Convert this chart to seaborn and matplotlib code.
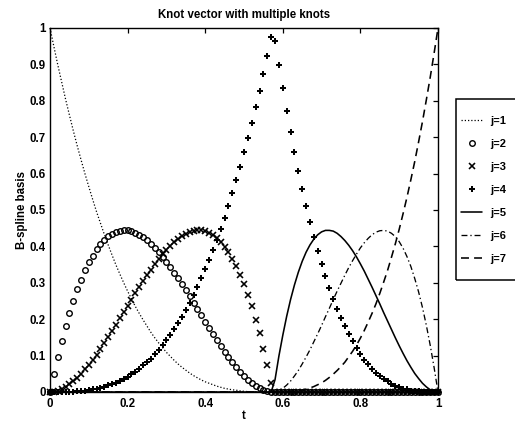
import matplotlib
matplotlib.use("Agg")
import matplotlib.pyplot as plt
from matplotlib.patches import Rectangle
import seaborn as sns
import pandas as pd

# ---------------- data ----------------
t = [0.00, 0.01, 0.02, 0.03, 0.04, 0.05, 0.06, 0.07, 0.08, 0.09,
     0.10, 0.11, 0.12, 0.13, 0.14, 0.15, 0.16, 0.17, 0.18, 0.19,
     0.20, 0.21, 0.22, 0.23, 0.24, 0.25, 0.26, 0.27, 0.28, 0.29,
     0.30, 0.31, 0.32, 0.33, 0.34, 0.35, 0.36, 0.37, 0.38, 0.39,
     0.40, 0.41, 0.42, 0.43, 0.44, 0.45, 0.46, 0.47, 0.48, 0.49,
     0.50, 0.51, 0.52, 0.53, 0.54, 0.55, 0.56, 0.57, 0.58, 0.59,
     0.60, 0.61, 0.62, 0.63, 0.64, 0.65, 0.66, 0.67, 0.68, 0.69,
     0.70, 0.71, 0.72, 0.73, 0.74, 0.75, 0.76, 0.77, 0.78, 0.79,
     0.80, 0.81, 0.82, 0.83, 0.84, 0.85, 0.86, 0.87, 0.88, 0.89,
     0.90, 0.91, 0.92, 0.93, 0.94, 0.95, 0.96, 0.97, 0.98, 0.99,
     1.00]

j1 = [1.000, 0.949, 0.899, 0.852, 0.805, 0.761, 0.718, 0.677, 0.638, 0.600,
      0.564, 0.529, 0.495, 0.464, 0.433, 0.404, 0.376, 0.349, 0.324, 0.300,
      0.277, 0.256, 0.235, 0.216, 0.198, 0.181, 0.164, 0.149, 0.135, 0.122,
      0.109, 0.098, 0.087, 0.077, 0.068, 0.060, 0.052, 0.045, 0.039, 0.033,
      0.028, 0.024, 0.020, 0.016, 0.013, 0.010, 0.008, 0.006, 0.005, 0.003,
      0.002, 0.001, 0.001, 0.000, 0.000, 0.000, 0.000, 0.000, 0.000, 0.000,
      0.000, 0.000, 0.000, 0.000, 0.000, 0.000, 0.000, 0.000, 0.000, 0.000,
      0.000, 0.000, 0.000, 0.000, 0.000, 0.000, 0.000, 0.000, 0.000, 0.000,
      0.000, 0.000, 0.000, 0.000, 0.000, 0.000, 0.000, 0.000, 0.000, 0.000,
      0.000, 0.000, 0.000, 0.000, 0.000, 0.000, 0.000, 0.000, 0.000, 0.000,
      0.000]

j2 = [0.000, 0.050, 0.097, 0.141, 0.181, 0.217, 0.251, 0.282, 0.309, 0.334,
      0.356, 0.375, 0.392, 0.406, 0.418, 0.428, 0.435, 0.440, 0.443, 0.444,
      0.444, 0.441, 0.438, 0.432, 0.425, 0.417, 0.407, 0.396, 0.385, 0.372,
      0.358, 0.344, 0.328, 0.313, 0.296, 0.280, 0.263, 0.245, 0.228, 0.211,
      0.193, 0.176, 0.159, 0.143, 0.127, 0.111, 0.096, 0.082, 0.068, 0.056,
      0.044, 0.034, 0.025, 0.017, 0.010, 0.005, 0.002, 0.000, 0.000, 0.000,
      0.000, 0.000, 0.000, 0.000, 0.000, 0.000, 0.000, 0.000, 0.000, 0.000,
      0.000, 0.000, 0.000, 0.000, 0.000, 0.000, 0.000, 0.000, 0.000, 0.000,
      0.000, 0.000, 0.000, 0.000, 0.000, 0.000, 0.000, 0.000, 0.000, 0.000,
      0.000, 0.000, 0.000, 0.000, 0.000, 0.000, 0.000, 0.000, 0.000, 0.000,
      0.000]

j3 = [0.000, 0.001, 0.004, 0.008, 0.014, 0.021, 0.029, 0.039, 0.050, 0.062,
      0.075, 0.089, 0.103, 0.119, 0.135, 0.151, 0.168, 0.185, 0.202, 0.219,
      0.237, 0.254, 0.271, 0.288, 0.304, 0.321, 0.336, 0.351, 0.365, 0.378,
      0.391, 0.402, 0.412, 0.421, 0.429, 0.435, 0.440, 0.443, 0.444, 0.444,
      0.442, 0.438, 0.431, 0.423, 0.412, 0.399, 0.384, 0.366, 0.345, 0.322,
      0.296, 0.267, 0.235, 0.199, 0.161, 0.119, 0.074, 0.026, 0.000, 0.000,
      0.000, 0.000, 0.000, 0.000, 0.000, 0.000, 0.000, 0.000, 0.000, 0.000,
      0.000, 0.000, 0.000, 0.000, 0.000, 0.000, 0.000, 0.000, 0.000, 0.000,
      0.000, 0.000, 0.000, 0.000, 0.000, 0.000, 0.000, 0.000, 0.000, 0.000,
      0.000, 0.000, 0.000, 0.000, 0.000, 0.000, 0.000, 0.000, 0.000, 0.000,
      0.000]

j4 = [0.000, 0.000, 0.000, 0.000, 0.000, 0.001, 0.001, 0.002, 0.003, 0.004,
      0.005, 0.007, 0.009, 0.012, 0.014, 0.018, 0.022, 0.026, 0.031, 0.036,
      0.042, 0.049, 0.056, 0.064, 0.073, 0.082, 0.092, 0.104, 0.115, 0.128,
      0.142, 0.157, 0.172, 0.189, 0.207, 0.226, 0.245, 0.266, 0.289, 0.312,
      0.337, 0.363, 0.390, 0.418, 0.448, 0.479, 0.512, 0.546, 0.582, 0.619,
      0.658, 0.698, 0.740, 0.783, 0.828, 0.875, 0.924, 0.974, 0.965, 0.898,
      0.834, 0.773, 0.715, 0.660, 0.608, 0.559, 0.512, 0.468, 0.427, 0.388,
      0.352, 0.318, 0.286, 0.256, 0.229, 0.204, 0.180, 0.158, 0.139, 0.121,
      0.104, 0.089, 0.076, 0.064, 0.053, 0.044, 0.036, 0.029, 0.023, 0.017,
      0.013, 0.009, 0.007, 0.004, 0.003, 0.002, 0.001, 0.000, 0.000, 0.000,
      0.000]

j5 = [0.000, 0.000, 0.000, 0.000, 0.000, 0.000, 0.000, 0.000, 0.000, 0.000,
      0.000, 0.000, 0.000, 0.000, 0.000, 0.000, 0.000, 0.000, 0.000, 0.000,
      0.000, 0.000, 0.000, 0.000, 0.000, 0.000, 0.000, 0.000, 0.000, 0.000,
      0.000, 0.000, 0.000, 0.000, 0.000, 0.000, 0.000, 0.000, 0.000, 0.000,
      0.000, 0.000, 0.000, 0.000, 0.000, 0.000, 0.000, 0.000, 0.000, 0.000,
      0.000, 0.000, 0.000, 0.000, 0.000, 0.000, 0.000, 0.000, 0.034, 0.099,
      0.156, 0.208, 0.254, 0.294, 0.329, 0.359, 0.384, 0.404, 0.420, 0.432,
      0.440, 0.444, 0.444, 0.442, 0.436, 0.427, 0.416, 0.403, 0.388, 0.371,
      0.352, 0.332, 0.310, 0.288, 0.265, 0.242, 0.218, 0.195, 0.172, 0.149,
      0.127, 0.106, 0.086, 0.068, 0.051, 0.037, 0.024, 0.014, 0.006, 0.002,
      0.000]

j6 = [0.000, 0.000, 0.000, 0.000, 0.000, 0.000, 0.000, 0.000, 0.000, 0.000,
      0.000, 0.000, 0.000, 0.000, 0.000, 0.000, 0.000, 0.000, 0.000, 0.000,
      0.000, 0.000, 0.000, 0.000, 0.000, 0.000, 0.000, 0.000, 0.000, 0.000,
      0.000, 0.000, 0.000, 0.000, 0.000, 0.000, 0.000, 0.000, 0.000, 0.000,
      0.000, 0.000, 0.000, 0.000, 0.000, 0.000, 0.000, 0.000, 0.000, 0.000,
      0.000, 0.000, 0.000, 0.000, 0.000, 0.000, 0.000, 0.000, 0.000, 0.004,
      0.010, 0.019, 0.030, 0.044, 0.059, 0.077, 0.096, 0.116, 0.138, 0.160,
      0.183, 0.207, 0.230, 0.254, 0.277, 0.299, 0.321, 0.342, 0.361, 0.379,
      0.396, 0.410, 0.422, 0.432, 0.439, 0.443, 0.444, 0.442, 0.436, 0.427,
      0.413, 0.395, 0.372, 0.345, 0.312, 0.275, 0.232, 0.183, 0.128, 0.067,
      0.000]

j7 = [0.000, 0.000, 0.000, 0.000, 0.000, 0.000, 0.000, 0.000, 0.000, 0.000,
      0.000, 0.000, 0.000, 0.000, 0.000, 0.000, 0.000, 0.000, 0.000, 0.000,
      0.000, 0.000, 0.000, 0.000, 0.000, 0.000, 0.000, 0.000, 0.000, 0.000,
      0.000, 0.000, 0.000, 0.000, 0.000, 0.000, 0.000, 0.000, 0.000, 0.000,
      0.000, 0.000, 0.000, 0.000, 0.000, 0.000, 0.000, 0.000, 0.000, 0.000,
      0.000, 0.000, 0.000, 0.000, 0.000, 0.000, 0.000, 0.000, 0.000, 0.000,
      0.000, 0.001, 0.001, 0.002, 0.004, 0.005, 0.008, 0.011, 0.015, 0.020,
      0.025, 0.032, 0.040, 0.049, 0.059, 0.070, 0.082, 0.097, 0.112, 0.129,
      0.148, 0.169, 0.192, 0.216, 0.242, 0.271, 0.302, 0.334, 0.370, 0.407,
      0.447, 0.490, 0.535, 0.583, 0.633, 0.687, 0.743, 0.803, 0.865, 0.931,
      1.000]

labels = ["j=1", "j=2", "j=3", "j=4", "j=5", "j=6", "j=7"]
xtick_vals = [0, 0.2, 0.4, 0.6, 0.8, 1]
xtick_labels = ["0", "0.2", "0.4", "0.6", "0.8", "1"]
ytick_vals = [0, 0.1, 0.2, 0.3, 0.4, 0.5, 0.6, 0.7, 0.8, 0.9, 1]
ytick_labels = ["0", "0.1", "0.2", "0.3", "0.4", "0.5", "0.6", "0.7", "0.8", "0.9", "1"]

# ---------------- style ----------------
sns.set_theme(style="white")
plt.rcParams["font.family"] = ["Liberation Sans", "DejaVu Sans"]
plt.rcParams["font.weight"] = "bold"
plt.rcParams["axes.titleweight"] = "bold"
plt.rcParams["axes.labelweight"] = "bold"

W, H = 515, 425
fig = plt.figure(figsize=(W / 100, H / 100), dpi=100)
fig.patch.set_facecolor("white")
ax = fig.add_axes([50 / W, 1 - 392 / H, 388 / W, 364 / H])
ax.set_facecolor("white")

df = pd.DataFrame({"t": t, "j1": j1, "j2": j2, "j3": j3, "j4": j4,
                   "j5": j5, "j6": j6, "j7": j7})

K = "black"
series_styles = [
    ("j1", dict(linestyle=(0, (1, 1.6)), linewidth=0.9, marker=None)),
    ("j2", dict(linestyle="none", marker="o", markersize=4.0,
                markerfacecolor="none", markeredgecolor=K, markeredgewidth=1.0)),
    ("j3", dict(linestyle="none", marker="x", markersize=4.2,
                markeredgecolor=K, markeredgewidth=1.15)),
    ("j4", dict(linestyle="none", marker="+", markersize=4.8,
                markeredgecolor=K, markeredgewidth=1.45)),
    ("j5", dict(linestyle="-", linewidth=1.15, marker=None)),
    ("j6", dict(linestyle=(0, (4.5, 2.2, 1, 2.2)), linewidth=0.95, marker=None)),
    ("j7", dict(linestyle=(0, (5, 3.2)), linewidth=1.15, marker=None)),
]

for (col, kw), lab in zip(series_styles, labels):
    sns.lineplot(data=df, x="t", y=col, ax=ax, color=K, label=lab,
                 sort=False, estimator=None, clip_on=False, **kw)

ax.set_xlim(0, 1)
ax.set_ylim(0, 1)
ax.set_xticks(xtick_vals)
ax.set_xticklabels(xtick_labels)
ax.set_yticks(ytick_vals)
ax.set_yticklabels(ytick_labels)
ax.tick_params(direction="in", top=True, right=True, length=3.5, width=0.9,
               color=K, labelsize=8.3, labelcolor=K, pad=3)
ax.tick_params(axis="x", pad=4)
for sp in ax.spines.values():
    sp.set_visible(True)
    sp.set_color(K)
    sp.set_linewidth(1.0)

ax.set_title("Knot vector with multiple knots", fontsize=8.3,
             fontweight="bold", color=K, pad=7)
ax.set_xlabel("t", fontsize=8.3, fontweight="bold", color=K, labelpad=0)
ax.set_ylabel("B-spline basis", fontsize=8.3, fontweight="bold", color=K,
              labelpad=1)

# legend outside, right
handles, labs = ax.get_legend_handles_labels()
leg = ax.legend(handles, labs, loc="upper left",
                bbox_to_anchor=(461 / W, 1 - 116 / H),
                bbox_transform=fig.transFigure, borderaxespad=0, borderpad=0,
                frameon=False, numpoints=1, handlelength=1.9,
                handletextpad=0.7, labelspacing=1.17,
                prop={"family": ["Liberation Sans", "DejaVu Sans"],
                      "weight": "bold", "size": 8})
for txt in leg.get_texts():
    txt.set_color(K)
fig.patches.append(Rectangle((456 / W, 1 - 280 / H), 70 / W, 181 / H,
                             transform=fig.transFigure, fill=False,
                             edgecolor=K, linewidth=1.1, figure=fig))

fig.savefig("out.png", dpi=100, facecolor="white")
